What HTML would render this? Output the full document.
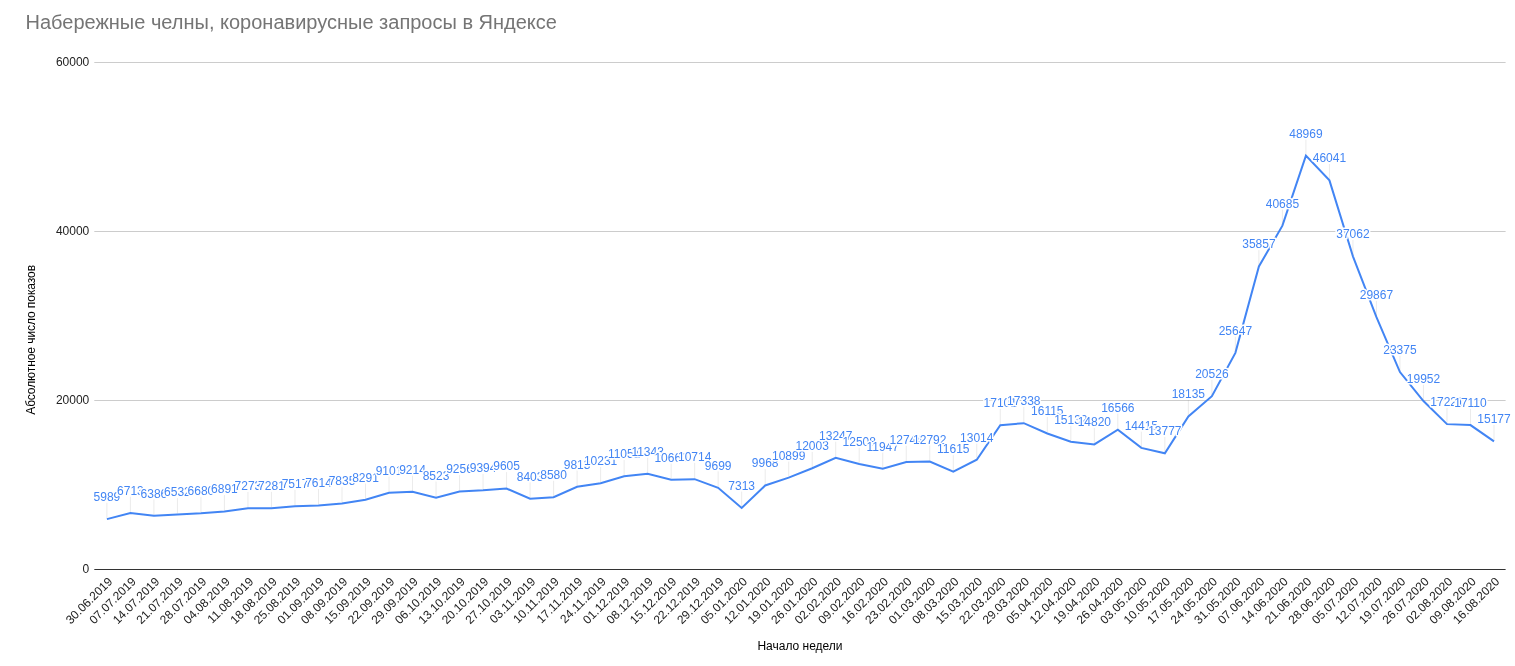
<!DOCTYPE html>
<html lang="ru"><head><meta charset="utf-8"><title>Набережные челны, коронавирусные запросы в Яндексе</title>
<style>
html,body{margin:0;padding:0;background:#fff;}
body{width:1515px;height:666px;overflow:hidden;font-family:"Liberation Sans",sans-serif;}
svg{display:block;}
svg text{font-family:"Liberation Sans",sans-serif;}
.t{font-size:20px;fill:#757575;}
.ax{font-size:12px;fill:#222;}
.ay{font-size:12px;fill:#222;}
.at{font-size:12px;fill:#000;}
.dl{font-size:12px;fill:#4285f4;stroke:#fff;stroke-width:3;stroke-linejoin:round;paint-order:stroke fill;text-anchor:middle;}
.st{stroke:#999;stroke-opacity:.2;stroke-width:1;}
</style></head><body>
<svg width="1515" height="666" viewBox="0 0 1515 666">
<rect x="0" y="0" width="1515" height="666" fill="#ffffff"/>
<text class="t" x="25.5" y="29">Набережные челны, коронавирусные запросы в Яндексе</text>
<rect x="94.3" y="400" width="1411.3" height="1" fill="#cccccc"/>
<rect x="94.3" y="231" width="1411.3" height="1" fill="#cccccc"/>
<rect x="94.3" y="62" width="1411.3" height="1" fill="#cccccc"/>
<rect x="94.3" y="569" width="1411.3" height="1" fill="#333333"/>
<text class="ay" x="89.3" y="573" text-anchor="end">0</text>
<text class="ay" x="89.3" y="404" text-anchor="end">20000</text>
<text class="ay" x="89.3" y="235" text-anchor="end">40000</text>
<text class="ay" x="89.3" y="66" text-anchor="end">60000</text>
<text class="at" x="800" y="650" text-anchor="middle">Начало недели</text>
<text class="at" transform="translate(35,339.9) rotate(-90)" text-anchor="middle" style="letter-spacing:-0.075px">Абсолютное число показов</text>
<text class="ax" text-anchor="end" transform="translate(113.10,582.20) rotate(-45)">30.06.2019</text>
<text class="ax" text-anchor="end" transform="translate(136.61,582.20) rotate(-45)">07.07.2019</text>
<text class="ax" text-anchor="end" transform="translate(160.12,582.20) rotate(-45)">14.07.2019</text>
<text class="ax" text-anchor="end" transform="translate(183.63,582.20) rotate(-45)">21.07.2019</text>
<text class="ax" text-anchor="end" transform="translate(207.14,582.20) rotate(-45)">28.07.2019</text>
<text class="ax" text-anchor="end" transform="translate(230.65,582.20) rotate(-45)">04.08.2019</text>
<text class="ax" text-anchor="end" transform="translate(254.16,582.20) rotate(-45)">11.08.2019</text>
<text class="ax" text-anchor="end" transform="translate(277.67,582.20) rotate(-45)">18.08.2019</text>
<text class="ax" text-anchor="end" transform="translate(301.18,582.20) rotate(-45)">25.08.2019</text>
<text class="ax" text-anchor="end" transform="translate(324.69,582.20) rotate(-45)">01.09.2019</text>
<text class="ax" text-anchor="end" transform="translate(348.20,582.20) rotate(-45)">08.09.2019</text>
<text class="ax" text-anchor="end" transform="translate(371.71,582.20) rotate(-45)">15.09.2019</text>
<text class="ax" text-anchor="end" transform="translate(395.22,582.20) rotate(-45)">22.09.2019</text>
<text class="ax" text-anchor="end" transform="translate(418.73,582.20) rotate(-45)">29.09.2019</text>
<text class="ax" text-anchor="end" transform="translate(442.24,582.20) rotate(-45)">06.10.2019</text>
<text class="ax" text-anchor="end" transform="translate(465.75,582.20) rotate(-45)">13.10.2019</text>
<text class="ax" text-anchor="end" transform="translate(489.26,582.20) rotate(-45)">20.10.2019</text>
<text class="ax" text-anchor="end" transform="translate(512.77,582.20) rotate(-45)">27.10.2019</text>
<text class="ax" text-anchor="end" transform="translate(536.28,582.20) rotate(-45)">03.11.2019</text>
<text class="ax" text-anchor="end" transform="translate(559.79,582.20) rotate(-45)">10.11.2019</text>
<text class="ax" text-anchor="end" transform="translate(583.30,582.20) rotate(-45)">17.11.2019</text>
<text class="ax" text-anchor="end" transform="translate(606.81,582.20) rotate(-45)">24.11.2019</text>
<text class="ax" text-anchor="end" transform="translate(630.32,582.20) rotate(-45)">01.12.2019</text>
<text class="ax" text-anchor="end" transform="translate(653.83,582.20) rotate(-45)">08.12.2019</text>
<text class="ax" text-anchor="end" transform="translate(677.34,582.20) rotate(-45)">15.12.2019</text>
<text class="ax" text-anchor="end" transform="translate(700.85,582.20) rotate(-45)">22.12.2019</text>
<text class="ax" text-anchor="end" transform="translate(724.36,582.20) rotate(-45)">29.12.2019</text>
<text class="ax" text-anchor="end" transform="translate(747.87,582.20) rotate(-45)">05.01.2020</text>
<text class="ax" text-anchor="end" transform="translate(771.38,582.20) rotate(-45)">12.01.2020</text>
<text class="ax" text-anchor="end" transform="translate(794.89,582.20) rotate(-45)">19.01.2020</text>
<text class="ax" text-anchor="end" transform="translate(818.41,582.20) rotate(-45)">26.01.2020</text>
<text class="ax" text-anchor="end" transform="translate(841.92,582.20) rotate(-45)">02.02.2020</text>
<text class="ax" text-anchor="end" transform="translate(865.43,582.20) rotate(-45)">09.02.2020</text>
<text class="ax" text-anchor="end" transform="translate(888.94,582.20) rotate(-45)">16.02.2020</text>
<text class="ax" text-anchor="end" transform="translate(912.45,582.20) rotate(-45)">23.02.2020</text>
<text class="ax" text-anchor="end" transform="translate(935.96,582.20) rotate(-45)">01.03.2020</text>
<text class="ax" text-anchor="end" transform="translate(959.47,582.20) rotate(-45)">08.03.2020</text>
<text class="ax" text-anchor="end" transform="translate(982.98,582.20) rotate(-45)">15.03.2020</text>
<text class="ax" text-anchor="end" transform="translate(1006.49,582.20) rotate(-45)">22.03.2020</text>
<text class="ax" text-anchor="end" transform="translate(1030.00,582.20) rotate(-45)">29.03.2020</text>
<text class="ax" text-anchor="end" transform="translate(1053.51,582.20) rotate(-45)">05.04.2020</text>
<text class="ax" text-anchor="end" transform="translate(1077.02,582.20) rotate(-45)">12.04.2020</text>
<text class="ax" text-anchor="end" transform="translate(1100.53,582.20) rotate(-45)">19.04.2020</text>
<text class="ax" text-anchor="end" transform="translate(1124.04,582.20) rotate(-45)">26.04.2020</text>
<text class="ax" text-anchor="end" transform="translate(1147.55,582.20) rotate(-45)">03.05.2020</text>
<text class="ax" text-anchor="end" transform="translate(1171.06,582.20) rotate(-45)">10.05.2020</text>
<text class="ax" text-anchor="end" transform="translate(1194.57,582.20) rotate(-45)">17.05.2020</text>
<text class="ax" text-anchor="end" transform="translate(1218.08,582.20) rotate(-45)">24.05.2020</text>
<text class="ax" text-anchor="end" transform="translate(1241.59,582.20) rotate(-45)">31.05.2020</text>
<text class="ax" text-anchor="end" transform="translate(1265.10,582.20) rotate(-45)">07.06.2020</text>
<text class="ax" text-anchor="end" transform="translate(1288.61,582.20) rotate(-45)">14.06.2020</text>
<text class="ax" text-anchor="end" transform="translate(1312.12,582.20) rotate(-45)">21.06.2020</text>
<text class="ax" text-anchor="end" transform="translate(1335.63,582.20) rotate(-45)">28.06.2020</text>
<text class="ax" text-anchor="end" transform="translate(1359.14,582.20) rotate(-45)">05.07.2020</text>
<text class="ax" text-anchor="end" transform="translate(1382.65,582.20) rotate(-45)">12.07.2020</text>
<text class="ax" text-anchor="end" transform="translate(1406.16,582.20) rotate(-45)">19.07.2020</text>
<text class="ax" text-anchor="end" transform="translate(1429.67,582.20) rotate(-45)">26.07.2020</text>
<text class="ax" text-anchor="end" transform="translate(1453.18,582.20) rotate(-45)">02.08.2020</text>
<text class="ax" text-anchor="end" transform="translate(1476.69,582.20) rotate(-45)">09.08.2020</text>
<text class="ax" text-anchor="end" transform="translate(1500.20,582.20) rotate(-45)">16.08.2020</text>
<polyline fill="none" stroke="#4285f4" stroke-width="2" stroke-linejoin="miter" points="106.90,519.14 130.41,513.02 153.92,515.79 177.43,514.55 200.94,513.30 224.45,511.51 247.96,508.28 271.47,508.21 294.98,506.22 318.49,505.40 342.00,503.53 365.51,499.67 389.02,492.82 412.53,491.86 436.04,497.71 459.55,491.51 483.06,490.34 506.57,488.56 530.08,498.72 553.59,497.23 577.10,486.80 600.61,483.26 624.12,476.33 647.63,473.86 671.14,479.63 694.65,479.18 718.16,487.76 741.67,507.94 765.18,485.49 788.69,477.61 812.21,468.27 835.72,457.75 859.23,464.00 882.74,468.75 906.25,462.01 929.76,461.60 953.27,471.56 976.78,459.72 1000.29,425.15 1023.80,423.15 1047.31,433.49 1070.82,441.81 1094.33,444.45 1117.84,429.68 1141.35,447.87 1164.86,453.27 1188.37,416.41 1211.88,396.18 1235.39,352.87 1258.90,266.51 1282.41,225.67 1305.92,155.60 1329.43,180.37 1352.94,256.32 1376.45,317.17 1399.96,372.09 1423.47,401.04 1446.98,424.14 1470.49,425.08 1494.00,441.43"/>
<line class="st" x1="106.9" y1="518.14" x2="106.9" y2="502.74"/><text class="dl" x="106.90" y="501">5989</text>
<line class="st" x1="130.41" y1="512.02" x2="130.41" y2="496.62"/><text class="dl" x="130.41" y="495">6713</text>
<line class="st" x1="153.92" y1="514.79" x2="153.92" y2="499.39"/><text class="dl" x="153.92" y="498">6386</text>
<line class="st" x1="177.431" y1="513.55" x2="177.431" y2="498.15"/><text class="dl" x="177.43" y="496">6532</text>
<line class="st" x1="200.941" y1="512.30" x2="200.941" y2="496.90"/><text class="dl" x="200.94" y="495">6680</text>
<line class="st" x1="224.451" y1="510.51" x2="224.451" y2="495.11"/><text class="dl" x="224.45" y="493">6891</text>
<line class="st" x1="247.961" y1="507.28" x2="247.961" y2="491.88"/><text class="dl" x="247.96" y="490">7273</text>
<line class="st" x1="271.471" y1="507.21" x2="271.471" y2="491.81"/><text class="dl" x="271.47" y="490">7281</text>
<line class="st" x1="294.981" y1="505.22" x2="294.981" y2="489.82"/><text class="dl" x="294.98" y="488">7517</text>
<line class="st" x1="318.492" y1="504.40" x2="318.492" y2="489.00"/><text class="dl" x="318.49" y="487">7614</text>
<line class="st" x1="342.002" y1="502.53" x2="342.002" y2="487.13"/><text class="dl" x="342.00" y="485">7835</text>
<line class="st" x1="365.512" y1="498.67" x2="365.512" y2="483.27"/><text class="dl" x="365.51" y="482">8291</text>
<line class="st" x1="389.022" y1="491.82" x2="389.022" y2="476.42"/><text class="dl" x="389.02" y="475">9101</text>
<line class="st" x1="412.532" y1="490.86" x2="412.532" y2="475.46"/><text class="dl" x="412.53" y="474">9214</text>
<line class="st" x1="436.042" y1="496.71" x2="436.042" y2="481.31"/><text class="dl" x="436.04" y="480">8523</text>
<line class="st" x1="459.553" y1="490.51" x2="459.553" y2="475.11"/><text class="dl" x="459.55" y="473">9256</text>
<line class="st" x1="483.063" y1="489.34" x2="483.063" y2="473.94"/><text class="dl" x="483.06" y="472">9394</text>
<line class="st" x1="506.573" y1="487.56" x2="506.573" y2="472.16"/><text class="dl" x="506.57" y="470">9605</text>
<line class="st" x1="530.083" y1="497.72" x2="530.083" y2="482.32"/><text class="dl" x="530.08" y="481">8403</text>
<line class="st" x1="553.593" y1="496.23" x2="553.593" y2="480.83"/><text class="dl" x="553.59" y="479">8580</text>
<line class="st" x1="577.103" y1="485.80" x2="577.103" y2="470.40"/><text class="dl" x="577.10" y="469">9813</text>
<line class="st" x1="600.614" y1="482.26" x2="600.614" y2="466.86"/><text class="dl" x="600.61" y="465">10231</text>
<line class="st" x1="624.124" y1="475.33" x2="624.124" y2="459.93"/><text class="dl" x="624.12" y="458">11051</text>
<line class="st" x1="647.634" y1="472.86" x2="647.634" y2="457.46"/><text class="dl" x="647.63" y="456">11343</text>
<line class="st" x1="671.144" y1="478.63" x2="671.144" y2="463.23"/><text class="dl" x="671.14" y="462">10660</text>
<line class="st" x1="694.654" y1="478.18" x2="694.654" y2="462.78"/><text class="dl" x="694.65" y="461">10714</text>
<line class="st" x1="718.164" y1="486.76" x2="718.164" y2="471.36"/><text class="dl" x="718.16" y="470">9699</text>
<line class="st" x1="741.675" y1="506.94" x2="741.675" y2="491.54"/><text class="dl" x="741.67" y="490">7313</text>
<line class="st" x1="765.185" y1="484.49" x2="765.185" y2="469.09"/><text class="dl" x="765.18" y="467">9968</text>
<line class="st" x1="788.695" y1="476.61" x2="788.695" y2="461.21"/><text class="dl" x="788.69" y="460">10899</text>
<line class="st" x1="812.205" y1="467.27" x2="812.205" y2="451.87"/><text class="dl" x="812.21" y="450">12003</text>
<line class="st" x1="835.715" y1="456.75" x2="835.715" y2="441.35"/><text class="dl" x="835.72" y="440">13247</text>
<line class="st" x1="859.225" y1="463.00" x2="859.225" y2="447.60"/><text class="dl" x="859.23" y="446">12508</text>
<line class="st" x1="882.736" y1="467.75" x2="882.736" y2="452.35"/><text class="dl" x="882.74" y="451">11947</text>
<line class="st" x1="906.246" y1="461.01" x2="906.246" y2="445.61"/><text class="dl" x="906.25" y="444">12744</text>
<line class="st" x1="929.756" y1="460.60" x2="929.756" y2="445.20"/><text class="dl" x="929.76" y="444">12792</text>
<line class="st" x1="953.266" y1="470.56" x2="953.266" y2="455.16"/><text class="dl" x="953.27" y="453">11615</text>
<line class="st" x1="976.776" y1="458.72" x2="976.776" y2="443.32"/><text class="dl" x="976.78" y="442">13014</text>
<line class="st" x1="1000.29" y1="424.15" x2="1000.29" y2="408.75"/><text class="dl" x="1000.29" y="407">17101</text>
<line class="st" x1="1023.8" y1="422.15" x2="1023.8" y2="406.75"/><text class="dl" x="1023.80" y="405">17338</text>
<line class="st" x1="1047.31" y1="432.49" x2="1047.31" y2="417.09"/><text class="dl" x="1047.31" y="415">16115</text>
<line class="st" x1="1070.82" y1="440.81" x2="1070.82" y2="425.41"/><text class="dl" x="1070.82" y="424">15132</text>
<line class="st" x1="1094.33" y1="443.45" x2="1094.33" y2="428.05"/><text class="dl" x="1094.33" y="426">14820</text>
<line class="st" x1="1117.84" y1="428.68" x2="1117.84" y2="413.28"/><text class="dl" x="1117.84" y="412">16566</text>
<line class="st" x1="1141.35" y1="446.87" x2="1141.35" y2="431.47"/><text class="dl" x="1141.35" y="430">14415</text>
<line class="st" x1="1164.86" y1="452.27" x2="1164.86" y2="436.87"/><text class="dl" x="1164.86" y="435">13777</text>
<line class="st" x1="1188.37" y1="415.41" x2="1188.37" y2="400.01"/><text class="dl" x="1188.37" y="398">18135</text>
<line class="st" x1="1211.88" y1="395.18" x2="1211.88" y2="379.78"/><text class="dl" x="1211.88" y="378">20526</text>
<line class="st" x1="1235.39" y1="351.87" x2="1235.39" y2="336.47"/><text class="dl" x="1235.39" y="335">25647</text>
<line class="st" x1="1258.9" y1="265.51" x2="1258.9" y2="250.11"/><text class="dl" x="1258.90" y="248">35857</text>
<line class="st" x1="1282.41" y1="224.67" x2="1282.41" y2="209.27"/><text class="dl" x="1282.41" y="208">40685</text>
<line class="st" x1="1305.92" y1="154.60" x2="1305.92" y2="139.20"/><text class="dl" x="1305.92" y="138">48969</text>
<line class="st" x1="1329.43" y1="179.37" x2="1329.43" y2="163.97"/><text class="dl" x="1329.43" y="162">46041</text>
<line class="st" x1="1352.94" y1="255.32" x2="1352.94" y2="239.92"/><text class="dl" x="1352.94" y="238">37062</text>
<line class="st" x1="1376.45" y1="316.17" x2="1376.45" y2="300.77"/><text class="dl" x="1376.45" y="299">29867</text>
<line class="st" x1="1399.96" y1="371.09" x2="1399.96" y2="355.69"/><text class="dl" x="1399.96" y="354">23375</text>
<line class="st" x1="1423.47" y1="400.04" x2="1423.47" y2="384.64"/><text class="dl" x="1423.47" y="383">19952</text>
<line class="st" x1="1446.98" y1="423.14" x2="1446.98" y2="407.74"/><text class="dl" x="1446.98" y="406">17221</text>
<line class="st" x1="1470.49" y1="424.08" x2="1470.49" y2="408.68"/><text class="dl" x="1470.49" y="407">17110</text>
<line class="st" x1="1494" y1="440.43" x2="1494" y2="425.03"/><text class="dl" x="1494.00" y="423">15177</text>
</svg>
</body></html>
